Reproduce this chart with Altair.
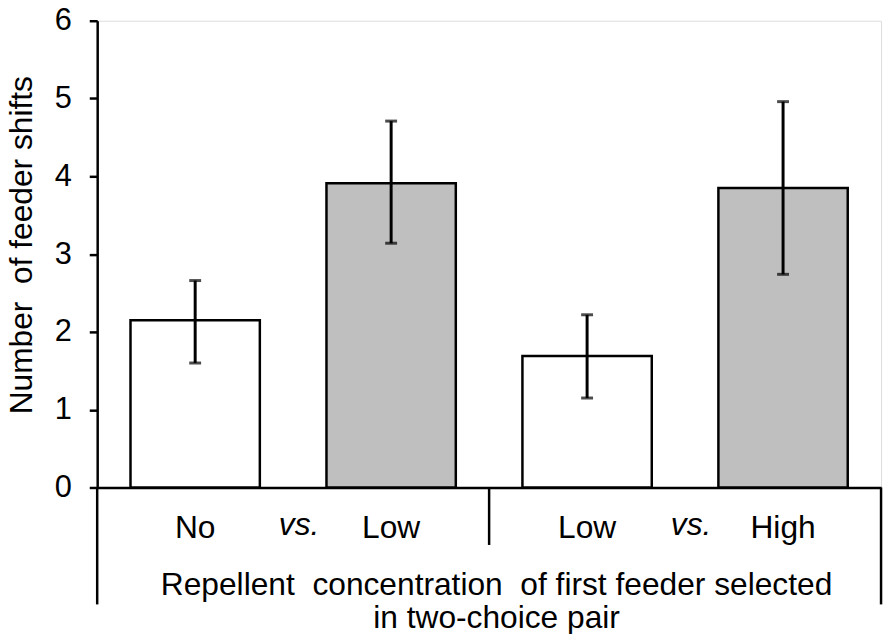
import altair as alt
import pandas as pd

categories = ["No", "Low", "Low", "High"]
means = [2.15, 3.91, 1.69, 3.85]
err_low = [1.60, 3.14, 1.15, 2.74]
err_high = [2.66, 4.71, 2.22, 4.96]
fills = ["white", "#bfbfbf", "white", "#bfbfbf"]

label_texts = ["No", "vs.", "Low", "Low", "vs.", "High"]
label_slots = [0.5, 1.0, 1.5, 2.5, 3.0, 3.5]
label_italic = [False, True, False, False, True, False]

outer_bounds = [0, 4]
middle_bounds = [2]

x_title_lines = ["Repellent\u00a0 concentration\u00a0 of first feeder selected", "in two-choice pair"]
y_title = "Number\u00a0 of feeder shifts"

FONT = "Liberation Sans"
half = 0.33

df = pd.DataFrame({
    "cat": categories,
    "mean": means,
    "lo": err_low,
    "hi": err_high,
    "fill": fills,
    "xc": [i + 0.5 for i in range(len(categories))],
})
df["x0"] = df["xc"] - half
df["x1"] = df["xc"] + half

lab = pd.DataFrame({"label": label_texts, "pos": label_slots, "italic": label_italic})
outer = pd.DataFrame({"pos": outer_bounds})
middle = pd.DataFrame({"pos": middle_bounds})

xscale = alt.Scale(domain=[0, 4], nice=False, zero=False)
yscale = alt.Scale(domain=[0, 6], nice=False)

xaxis = alt.Axis(domain=True, domainColor="black", domainWidth=2.5, ticks=False,
                 labels=False, title=None, grid=False)
yaxis = alt.Axis(domain=True, domainColor="black", domainWidth=2.5, ticks=True,
                 tickColor="black", tickWidth=2.5, tickSize=8, values=[0, 1, 2, 3, 4, 5, 6],
                 format="d",
                 labelFont=FONT, labelFontSize=31, labelColor="black", labelPadding=18,
                 grid=False, title=y_title, titleFont=FONT, titleFontSize=32,
                 titleFontWeight="normal", titleColor="black", titleX=-66, titleY=226,
                 titleAngle=-90, titleBaseline="alphabetic", titleAlign="center")

bars = alt.Chart(df).mark_bar(stroke="black", strokeWidth=2.5).encode(
    x=alt.X("x0:Q", scale=xscale, axis=xaxis),
    x2="x1:Q",
    y=alt.Y("mean:Q", scale=yscale, axis=yaxis),
    y2=alt.datum(0),
    fill=alt.Fill("fill:N", scale=None),
)

err = alt.Chart(df).mark_rule(strokeWidth=3, color="black").encode(
    x=alt.X("xc:Q", scale=xscale), y=alt.Y("lo:Q", scale=yscale), y2="hi:Q")
cap_lo = alt.Chart(df).mark_tick(orient="horizontal", size=12, thickness=3, color="black").encode(
    x=alt.X("xc:Q", scale=xscale), y=alt.Y("lo:Q", scale=yscale))
cap_hi = alt.Chart(df).mark_tick(orient="horizontal", size=12, thickness=3, color="black").encode(
    x=alt.X("xc:Q", scale=xscale), y=alt.Y("hi:Q", scale=yscale))

sep_outer = alt.Chart(outer).mark_rule(strokeWidth=2.5, color="black").encode(
    x=alt.X("pos:Q", scale=xscale), y=alt.value(471), y2=alt.value(589))
sep_mid = alt.Chart(middle).mark_rule(strokeWidth=2.5, color="black").encode(
    x=alt.X("pos:Q", scale=xscale), y=alt.value(471), y2=alt.value(529))

lab_normal = alt.Chart(lab).transform_filter("!datum.italic").mark_text(
    font=FONT, fontSize=32, baseline="alphabetic", align="center", color="black").encode(
    x=alt.X("pos:Q", scale=xscale), y=alt.value(522), text="label:N")
lab_italic = alt.Chart(lab).transform_filter("datum.italic").mark_text(
    font=FONT, fontSize=32, fontStyle="italic", baseline="alphabetic", align="center",
    color="black", dx=6).encode(
    x=alt.X("pos:Q", scale=xscale), y=alt.value(519), text="label:N")

xtitle = alt.Chart(pd.DataFrame({"a": [0]})).mark_text(
    text=x_title_lines, font=FONT, fontSize=32, lineHeight=34, baseline="alphabetic",
    align="center", color="black").encode(x=alt.value(403), y=alt.value(579))

chart = alt.layer(bars, err, cap_lo, cap_hi, sep_outer, sep_mid, lab_normal, lab_italic, xtitle).properties(
    width=791, height=471,
    autosize=alt.AutoSizeParams(type="none"),
    padding={"left": 90, "top": 10, "right": 5, "bottom": 145},
).configure_view(stroke=None).configure(background="white")

chart.save("out.html", embed_options={"renderer": "svg", "actions": False})
